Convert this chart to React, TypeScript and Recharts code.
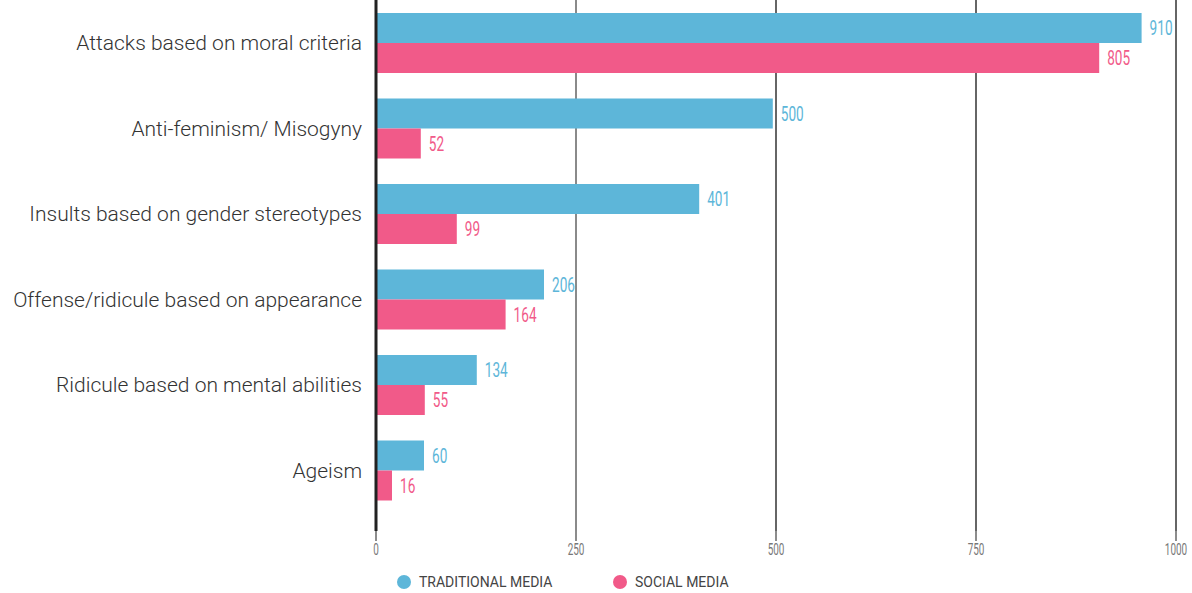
import { BarChart, Bar, XAxis, YAxis, ReferenceLine, Legend, LabelList } from 'recharts'

const categories = [
    'Attacks based on moral criteria',
    'Anti-feminism/ Misogyny',
    'Insults based on gender stereotypes',
    'Offense/ridicule based on appearance',
    'Ridicule based on mental abilities',
    'Ageism',
]
// bar lengths as drawn in the picture
const traditionalBars = [957, 496, 404, 210, 126, 60]
const socialBars = [904, 56, 101, 162, 61, 20]
// numbers printed next to the bars
const traditionalLabels = [910, 500, 401, 206, 134, 60]
const socialLabels = [805, 52, 99, 164, 55, 16]
const xTicks = [0, 250, 500, 750, 1000]
const gridLight = [250]
const gridDark = [500, 750, 1000]

const BLUE = '#5db6d9'
const PINK = '#f15a89'
const FONT = 'Roboto, sans-serif'

const data = categories.map((name, i) => ({
    name,
    traditional: traditionalBars[i],
    social: socialBars[i],
    traditionalLabel: traditionalLabels[i],
    socialLabel: socialLabels[i],
}))

// narrow number label to the right of a bar
const valueLabel = (color: string) => (props: any) => {
    const { x, y, width, height, value } = props
    const tx = Number(x) + Number(width) + 8
    const ty = Number(y) + Number(height) / 2
    return (
        <text
            transform={`translate(${tx},${ty}) scale(0.68,1)`}
            fill={color}
            fontSize={20}
            fontFamily={FONT}
            dominantBaseline="central"
        >
            {value}
        </text>
    )
}

function XTick(props: any) {
    const { x, y, payload } = props
    return (
        <text
            transform={`translate(${x},${y + 12}) scale(0.62,1)`}
            fill="#777"
            fontSize={16}
            fontFamily={FONT}
            textAnchor="middle"
        >
            {payload.value}
        </text>
    )
}

function LegendContent() {
    const items = [
        { label: 'TRADITIONAL MEDIA', color: BLUE, width: 216 },
        { label: 'SOCIAL MEDIA', color: PINK, width: 120 },
    ]
    return (
        <div style={{ display: 'flex', alignItems: 'center', whiteSpace: 'nowrap' }}>
            {items.map((it) => (
                <div key={it.label} style={{ display: 'flex', alignItems: 'center', width: it.width, flex: 'none' }}>
                    <span
                        style={{
                            width: 14,
                            height: 14,
                            borderRadius: 7,
                            background: it.color,
                            display: 'inline-block',
                            marginRight: 8,
                            flex: 'none',
                        }}
                    />
                    <span style={{ fontFamily: FONT, fontSize: 14, lineHeight: '18px', color: '#444' }}>
                        {it.label}
                    </span>
                </div>
            ))}
        </div>
    )
}

export default function App() {
    return (
        <div style={{ position: 'absolute', left: 0, top: 0, width: 1192, height: 593, background: '#fff' }}>
            <BarChart
                width={1192}
                height={593}
                data={data}
                layout="vertical"
                margin={{ top: 0, right: 16, left: 0, bottom: 12 }}
                barSize={30}
                barGap={0}
            >
                <XAxis
                    type="number"
                    domain={[0, 1000]}
                    ticks={xTicks}
                    axisLine={false}
                    tickSize={10}
                    tickLine={{ stroke: '#666', strokeWidth: 1.5 }}
                    tick={<XTick />}
                    height={32}
                />
                <YAxis
                    type="category"
                    dataKey="name"
                    width={376}
                    axisLine={{ stroke: '#222', strokeWidth: 3 }}
                    tickLine={false}
                    tickSize={0}
                    tickMargin={14}
                    padding={{ top: 0, bottom: 18 }}
                    tick={{ fill: '#333', fontSize: 21, fontFamily: FONT, fontWeight: 300 }}
                    interval={0}
                />
                {gridLight.map((v) => (
                    <ReferenceLine key={v} x={v} stroke="#8a8a8a" strokeWidth={2} zIndex={-50} />
                ))}
                {gridDark.map((v) => (
                    <ReferenceLine key={v} x={v} stroke="#333" strokeWidth={1.5} zIndex={-50} />
                ))}
                <Legend
                    verticalAlign="bottom"
                    height={18}
                    content={<LegendContent />}
                    wrapperStyle={{ left: 397, bottom: 2, width: 420, height: 18 }}
                />
                <Bar dataKey="traditional" fill={BLUE} isAnimationActive={false}>
                    <LabelList dataKey="traditionalLabel" content={valueLabel(BLUE)} />
                </Bar>
                <Bar dataKey="social" fill={PINK} isAnimationActive={false}>
                    <LabelList dataKey="socialLabel" content={valueLabel(PINK)} />
                </Bar>
            </BarChart>
        </div>
    )
}
